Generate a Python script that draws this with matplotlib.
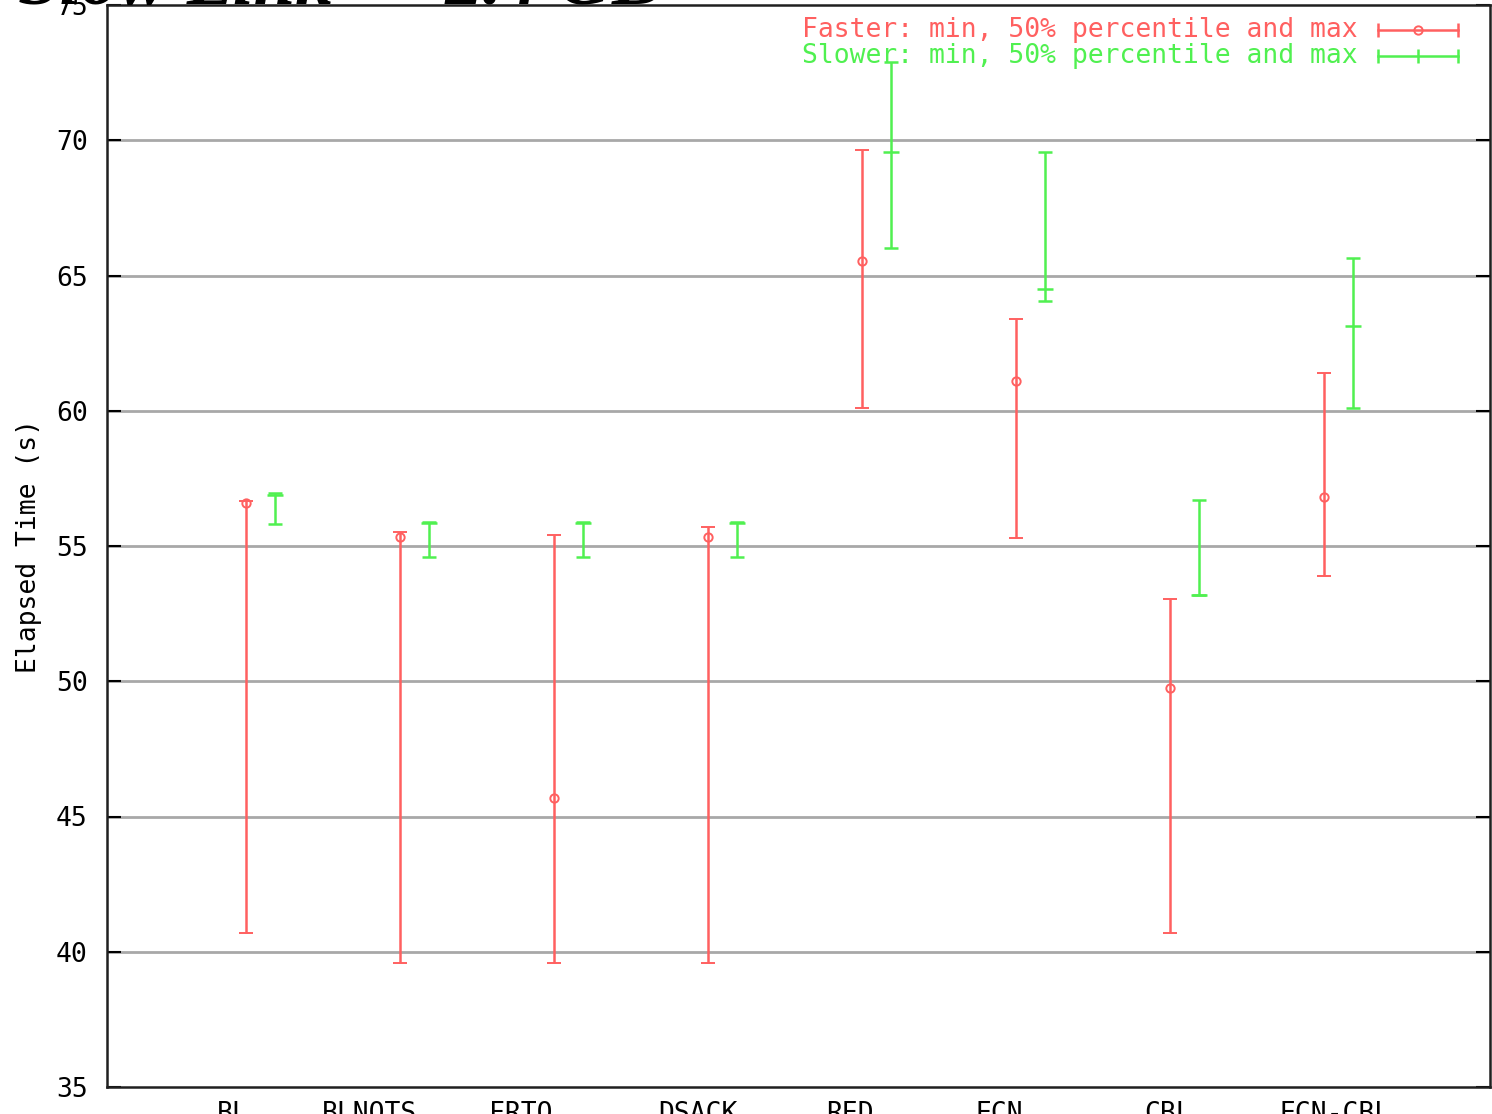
import numpy as np
import matplotlib
matplotlib.use("Agg")
import matplotlib.pyplot as plt

# Elapsed time per configuration: min, 50% percentile and max (seconds)
categories = ["BL", "BLNOTS", "FRTO", "DSACK", "RED", "ECN", "CBL", "ECN-CBL"]
faster_min = [40.7, 39.6, 39.6, 39.6, 60.1, 55.3, 40.7, 53.9]
faster_med = [56.6, 55.35, 45.7, 55.35, 65.55, 61.1, 49.75, 56.8]
faster_max = [56.65, 55.5, 55.4, 55.7, 69.65, 63.4, 53.05, 61.4]
slower_min = [55.8, 54.6, 54.6, 54.6, 66.0, 64.05, 53.2, 60.1]
slower_med = [56.9, 55.85, 55.85, 55.85, 69.55, 64.5, 53.2, 63.15]
slower_max = [56.95, 55.9, 55.9, 55.9, 72.9, 69.55, 56.7, 65.65]

yticks = [35, 40, 45, 50, 55, 60, 65, 70, 75]

# horizontal nudge of each category label relative to its group
label_shift = [-0.085, -0.195, -0.215, -0.065, -0.078, -0.104, -0.013, 0.071]

RED = "#ff6060"
GREEN = "#50f050"
MONO = "DejaVu Sans Mono"
FS = 19

fig = plt.figure(figsize=(14.92, 11.14), dpi=100)
ax = fig.add_axes([107 / 1492, 1 - 1087 / 1114, (1490 - 107) / 1492, (1087 - 5) / 1114])

x = np.arange(1, len(categories) + 1)
offset = 0.19

fmin, fmed, fmax = map(np.array, (faster_min, faster_med, faster_max))
smin, smed, smax = map(np.array, (slower_min, slower_med, slower_max))

ax.errorbar(x, fmed, yerr=[fmed - fmin, fmax - fmed], fmt="o", color=RED,
            mfc="none", mec=RED, ms=6, mew=1.4, ecolor=RED, elinewidth=1.8,
            capsize=5, capthick=1.8, zorder=3)
ax.errorbar(x + offset, smed, yerr=[smed - smin, smax - smed], fmt="_", color=GREEN,
            ms=12, mew=1.8, ecolor=GREEN, elinewidth=1.8,
            capsize=5, capthick=1.8, zorder=3)

ax.set_xlim(0.097, 9.08)
ax.set_ylim(35, 75)
ax.set_yticks(yticks)
ax.set_yticklabels([str(t) for t in yticks], family=MONO, fontsize=FS)
ax.set_xticks(x + np.array(label_shift))
ax.set_xticklabels(categories, family=MONO, fontsize=FS)
ax.tick_params(axis="x", length=0, pad=10)
ax.tick_params(axis="y", direction="in", length=10, width=1.5, pad=14, right=True)

for t in yticks[1:-1]:
    ax.axhline(t, color="#a8a8a8", lw=2, zorder=1)

for s in ax.spines.values():
    s.set_linewidth(1.8)
    s.set_color("#202020")

ax.set_ylabel("Elapsed Time (s)", family=MONO, fontsize=FS, labelpad=10)

# Key in the upper right corner
rows = [("Faster: min, 50% percentile and max", RED, "o", 0.977),
        ("Slower: min, 50% percentile and max", GREEN, "|", 0.953)]
x0, x1 = 0.919, 0.977
for label, col, mk, yy in rows:
    ax.text(0.9046, yy, label, color=col, family=MONO, fontsize=FS,
            ha="right", va="center", transform=ax.transAxes)
    ax.plot([x0, x1], [yy, yy], color=col, lw=1.8, transform=ax.transAxes, clip_on=False)
    ax.plot([x0, x1], [yy, yy], ls="none", marker="|", ms=10, mew=1.8, color=col,
            transform=ax.transAxes, clip_on=False)
    if mk == "o":
        ax.plot([(x0 + x1) / 2], [yy], marker="o", ms=6, mfc="none", mec=col, mew=1.4,
                transform=ax.transAxes, clip_on=False)
    else:
        ax.plot([(x0 + x1) / 2], [yy], marker="|", ms=10, mew=1.8, color=col,
                transform=ax.transAxes, clip_on=False)

fig.text(0.012, 1 - 4 / 1114, "Slow Link \u2014 2.4 GB", family="Liberation Serif",
         fontsize=54, fontweight="bold", fontstyle="italic", ha="left", va="baseline")

fig.savefig("out.png", dpi=100)
